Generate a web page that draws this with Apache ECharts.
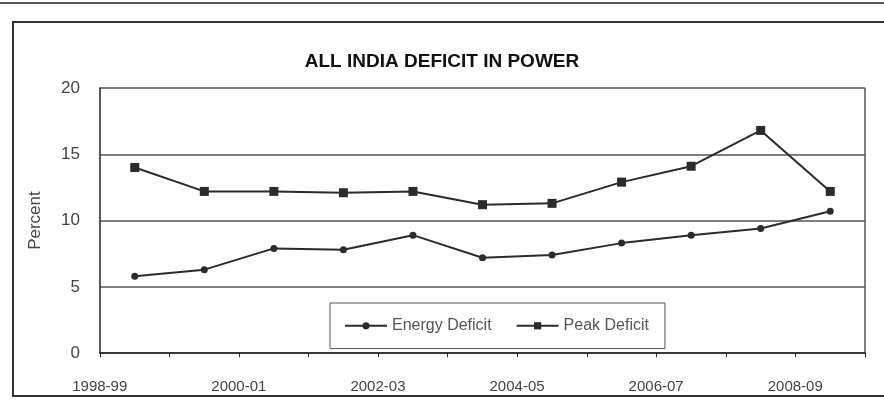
<!DOCTYPE html>
<html>
<head>
    <title>All India Deficit in Power</title>
    <style>
        body {
            margin: 0;
            padding: 0;
            background-color: #fff;
        }
        #chart {
            width: 884px;
            height: 400px;
        }
    </style>
</head>
<body>
    <div id="chart"></div>

    <script src="https://cdn.jsdelivr.net/npm/echarts@6/dist/echarts.min.js"></script>
    <script>
        // data
        const years = ['1998-99', '1999-00', '2000-01', '2001-02', '2002-03', '2003-04',
                       '2004-05', '2005-06', '2006-07', '2007-08', '2008-09'];
        const energyDeficit = [5.8, 6.3, 7.9, 7.8, 8.9, 7.2, 7.4, 8.3, 8.9, 9.4, 10.7];
        const peakDeficit = [14.0, 12.2, 12.2, 12.1, 12.2, 11.2, 11.3, 12.9, 14.1, 16.8, 12.2];
        const yTicks = [0, 5, 10, 15, 20];

        const ink = '#2b2b2b';
        const chart = echarts.init(document.getElementById('chart'));

        const option = {
            animation: false,
            backgroundColor: '#fff',
            title: {
                text: 'ALL INDIA DEFICIT IN POWER',
                left: 'center',
                top: 40,
                textStyle: {
                    fontFamily: '"Liberation Sans", Arial, sans-serif',
                    fontSize: 19,
                    fontWeight: 'bold',
                    color: '#111'
                }
            },
            grid: {
                left: 100,
                right: 19,
                top: 88,
                bottom: 46
            },
            legend: {
                left: 330,
                top: 303,
                itemWidth: 42,
                itemHeight: 9,
                itemGap: 24,
                padding: [9, 16, 9, 14],
                borderColor: '#555',
                borderWidth: 1,
                textStyle: {
                    fontFamily: 'Arial, "Liberation Sans", sans-serif',
                    fontSize: 16,
                    color: '#555'
                },
                data: ['Energy Deficit', 'Peak Deficit']
            },
            xAxis: {
                type: 'category',
                data: years,
                boundaryGap: true,
                axisLine: { lineStyle: { color: '#222', width: 1.5 } },
                axisTick: {
                    show: true,
                    interval: 0,
                    length: 4,
                    lineStyle: { color: '#222' }
                },
                axisLabel: {
                    interval: 1,
                    margin: 21,
                    // labels sit on the left boundary of their category
                    padding: [0, 70, 0, 0],
                    fontFamily: 'Arial, "Liberation Sans", sans-serif',
                    fontSize: 15,
                    color: '#444'
                }
            },
            yAxis: {
                type: 'value',
                min: yTicks[0],
                max: yTicks[yTicks.length - 1],
                interval: 5,
                name: 'Percent',
                nameLocation: 'middle',
                nameGap: 42,
                nameTextStyle: {
                    fontFamily: 'Arial, "Liberation Sans", sans-serif',
                    fontSize: 17,
                    color: '#444'
                },
                axisLine: { show: true, lineStyle: { color: '#222', width: 1.5 } },
                axisTick: { show: false },
                axisLabel: {
                    margin: 20,
                    fontFamily: 'Arial, "Liberation Sans", sans-serif',
                    fontSize: 17,
                    color: '#444'
                },
                splitLine: { lineStyle: { color: '#555', width: 1.5 } }
            },
            series: [
                {
                    name: 'Energy Deficit',
                    type: 'line',
                    data: energyDeficit,
                    symbol: 'circle',
                    symbolSize: 7,
                    itemStyle: { color: ink },
                    lineStyle: { color: ink, width: 2 }
                },
                {
                    name: 'Peak Deficit',
                    type: 'line',
                    data: peakDeficit,
                    symbol: 'rect',
                    symbolSize: 9,
                    itemStyle: { color: ink },
                    lineStyle: { color: ink, width: 2 }
                }
            ],
            graphic: [
                // outer chart frame and the edge of the figure above it
                {
                    type: 'rect',
                    shape: { x: 13, y: 22, width: 900, height: 374 },
                    style: { fill: 'none', stroke: '#333', lineWidth: 2 },
                    silent: true
                },
                {
                    type: 'line',
                    shape: { x1: 0, y1: 3, x2: 884, y2: 3 },
                    style: { stroke: '#555', lineWidth: 2 },
                    silent: true
                },
                // right edge of the plot area
                {
                    type: 'line',
                    shape: { x1: 865, y1: 88, x2: 865, y2: 354 },
                    style: { stroke: '#555', lineWidth: 1.5 },
                    silent: true
                }
            ]
        };

        chart.setOption(option);
    </script>
</body>
</html>
